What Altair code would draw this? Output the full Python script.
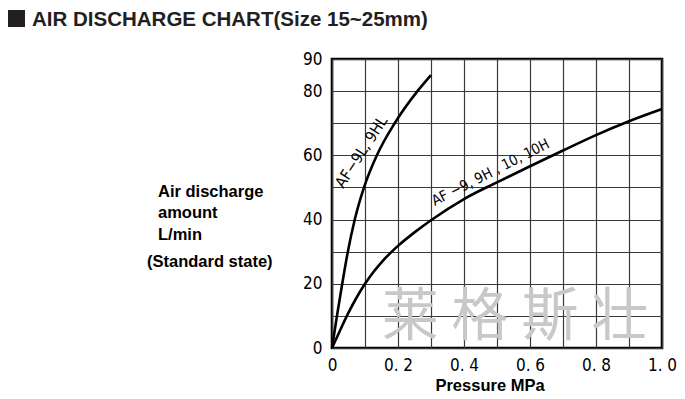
import altair as alt
import pandas as pd

# ---- data ----
low_x = [0, 0.015, 0.031, 0.048, 0.069, 0.097, 0.136, 0.19, 0.259, 0.3]
low_y = [0, 10, 20, 30, 40, 50, 60, 70, 80, 85]
low_name = "AF−9L, 9HL"

high_x = [0, 0.025, 0.05, 0.075, 0.1, 0.125, 0.15, 0.175, 0.2, 0.25, 0.3, 0.4, 0.5, 0.6, 0.7, 0.8, 0.9, 1.0]
high_y = [0, 5.6, 11, 15.8, 20, 23.6, 26.7, 29.4, 31.8, 36, 39.8, 46.4, 51.6, 56.6, 61.5, 66.3, 70.6, 74.4]
high_name = "AF −9, 9H , 10, 10H"

x_grid = [0, 0.1, 0.2, 0.3, 0.4, 0.5, 0.6, 0.7, 0.8, 0.9, 1.0]
y_grid = [0, 10, 20, 30, 40, 50, 60, 70, 80, 90]
y_labelled = [0, 20, 40, 60, 80, 90]

title_text = "AIR DISCHARGE CHART(Size 15~25mm)"
ytitle_lines = ["Air discharge", "amount", "L/min"]
ytitle_extra = "(Standard state)"
xtitle_text = "Pressure MPa"
watermark = "莱   格   斯   壮"

NARROW = "Liberation Sans Narrow, DejaVu Sans Condensed, Arial Narrow, sans-serif"
BOLD = "Liberation Sans, Arial, sans-serif"

curves = pd.concat([
    pd.DataFrame({"p": low_x, "q": low_y, "s": low_name}),
    pd.DataFrame({"p": high_x, "q": high_y, "s": high_name}),
])

xs = alt.Scale(domain=[0, 1], nice=False)
ys = alt.Scale(domain=[0, 90], nice=False)

y_label_expr = "indexof([" + ",".join(str(v) for v in y_labelled) + "], round(datum.value)) >= 0 ? format(datum.value, 'd') : ''"
x_label_expr = ("round(datum.value * 10) % 2 != 0 ? '' : (datum.value == 0 ? '0' : "
                "replace(format(datum.value, '.1f'), '.', '. '))")

wm = alt.Chart(pd.DataFrame({"t": [watermark]})).mark_text(
    font="Noto Sans CJK SC", fontSize=57, color="#c8c8c8", align="center", baseline="middle"
).encode(x=alt.value(183), y=alt.value(259), text="t:N")

lines = alt.Chart(curves).mark_line(color="black", strokeWidth=2.6, interpolate="monotone").encode(
    x=alt.X("p:Q", scale=xs, axis=alt.Axis(
        values=x_grid, tickCount=50, title=None, grid=True, gridColor="#3a3a3a", gridWidth=1.2, gridOpacity=1,
        ticks=False, domain=False, labelOverlap=False,
        labelFont=NARROW, labelFontSize=17, labelColor="black", labelPadding=9, labelFlush=False,
        labelExpr=x_label_expr,
    )),
    y=alt.Y("q:Q", scale=ys, axis=alt.Axis(
        values=y_grid, tickCount=50, title=None, grid=True, gridColor="#3a3a3a", gridWidth=1.2, gridOpacity=1,
        ticks=False, domain=False, labelOverlap=False,
        labelFont=NARROW, labelFontSize=17, labelColor="black", labelPadding=10, labelFlush=False,
        labelExpr=y_label_expr,
    )),
    detail="s:N",
)

lab_df = pd.DataFrame({
    "t": [low_name, high_name],
    "p": [0.112, 0.492],
    "q": [59.5, 52.3],
    "a": [303, 333],
    "fs": [15.5, 14.5],
})
labels = alt.Chart(lab_df).mark_text(
    font=NARROW, color="black", baseline="bottom", align="center", dy=-1
).encode(
    x=alt.X("p:Q", scale=xs), y=alt.Y("q:Q", scale=ys), text="t:N",
    angle=alt.Angle("a:Q", scale=None), size=alt.Size("fs:Q", scale=None, legend=None),
)

ytit = alt.Chart(pd.DataFrame({"t": ytitle_lines, "yy": [133, 154, 176]})).mark_text(
    font=BOLD, fontWeight="bold", fontSize=16.5, color="black", align="left", baseline="middle"
).encode(x=alt.value(-174), y=alt.Y("yy:Q", scale=None), text="t:N")

ytit2 = alt.Chart(pd.DataFrame({"t": [ytitle_extra]})).mark_text(
    font=BOLD, fontWeight="bold", fontSize=16.5, color="black", align="left", baseline="middle"
).encode(x=alt.value(-185), y=alt.value(203), text="t:N")

xtit = alt.Chart(pd.DataFrame({"t": [xtitle_text]})).mark_text(
    font=BOLD, fontWeight="bold", fontSize=16.5, color="black", align="center", baseline="middle"
).encode(x=alt.value(158), y=alt.value(327), text="t:N")

sq = alt.Chart(pd.DataFrame({"t": [title_text]})).mark_rect(color="#231f20").encode(
    x=alt.value(-324), x2=alt.value(-307), y=alt.value(-49), y2=alt.value(-32)
)
ttl = alt.Chart(pd.DataFrame({"t": [title_text]})).mark_text(
    font=BOLD, fontWeight="bold", fontSize=20.5, color="#231f20", align="left", baseline="middle"
).encode(x=alt.value(-300), y=alt.value(-39), text="t:N")

chart = alt.layer(wm, lines, labels, ytit, ytit2, xtit, sq, ttl).properties(
    width=330, height=289,
    autosize=alt.AutoSizeParams(type="none"),
    padding={"left": 324, "top": 51, "right": 15, "bottom": 50},
).configure_view(stroke="black", strokeWidth=2.6)

chart.save("out.html", embed_options={"renderer": "svg", "actions": False})
